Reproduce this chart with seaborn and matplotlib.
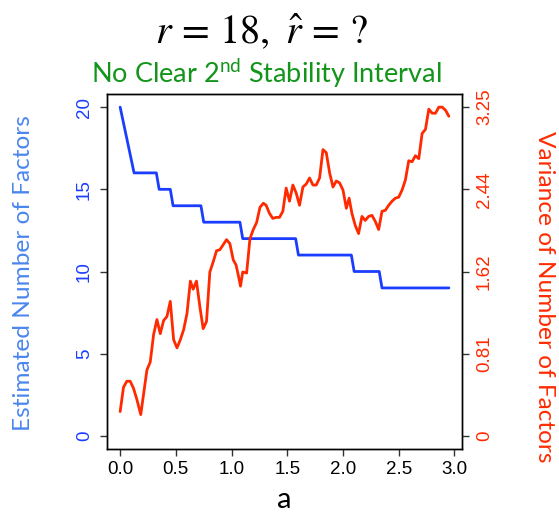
import matplotlib
matplotlib.use("Agg")
import matplotlib.pyplot as plt
import seaborn as sns
import pandas as pd

# Estimated number of factors (step curve vertices)
a_factors = [0.0, 0.125, 0.325, 0.35, 0.45, 0.475, 0.725, 0.75, 1.075, 1.1,
             1.575, 1.6, 2.075, 2.1, 2.325, 2.35, 2.95]
est_factors = [20, 16, 16, 15, 15, 14, 14, 13, 13, 12,
               12, 11, 11, 10, 10, 9, 9]

# Variance of the number of factors
a_var = [0.00, 0.03, 0.06, 0.09, 0.12, 0.15, 0.185, 0.215, 0.24, 0.27,
         0.30, 0.33, 0.36, 0.39, 0.42, 0.45, 0.48, 0.51, 0.54, 0.57,
         0.60, 0.63, 0.655, 0.685, 0.715, 0.745, 0.775, 0.805, 0.835, 0.865,
         0.895, 0.925, 0.955, 0.985, 1.015, 1.04, 1.06, 1.08, 1.10, 1.135,
         1.165, 1.195, 1.225, 1.255, 1.285, 1.31, 1.34, 1.37, 1.40, 1.43,
         1.46, 1.49, 1.52, 1.55, 1.58, 1.61, 1.64, 1.67, 1.70, 1.73,
         1.76, 1.79, 1.82, 1.85, 1.88, 1.91, 1.94, 1.97, 2.00, 2.03,
         2.055, 2.08, 2.11, 2.14, 2.17, 2.20, 2.23, 2.26, 2.29, 2.32,
         2.35, 2.38, 2.41, 2.44, 2.47, 2.50, 2.53, 2.56, 2.59, 2.62,
         2.65, 2.68, 2.71, 2.74, 2.77, 2.80, 2.83, 2.86, 2.89, 2.92, 2.95]
var_factors = [0.24, 0.48, 0.54, 0.54, 0.47, 0.36, 0.21, 0.45, 0.65, 0.73,
               1.00, 1.15, 1.01, 1.14, 1.18, 1.33, 0.95, 0.87, 0.95, 1.05,
               1.21, 1.53, 1.45, 1.53, 1.28, 1.06, 1.13, 1.62, 1.72, 1.83,
               1.84, 1.89, 1.94, 1.90, 1.74, 1.69, 1.59, 1.48, 1.62, 1.61,
               1.95, 2.04, 2.11, 2.26, 2.30, 2.28, 2.20, 2.15, 2.16, 2.16,
               2.22, 2.45, 2.32, 2.48, 2.40, 2.28, 2.46, 2.49, 2.55, 2.48,
               2.48, 2.55, 2.83, 2.80, 2.60, 2.46, 2.52, 2.50, 2.43, 2.25,
               2.35, 2.20, 2.08, 2.00, 2.17, 2.13, 2.17, 2.18, 2.12, 2.04,
               2.22, 2.23, 2.28, 2.32, 2.35, 2.36, 2.43, 2.53, 2.72, 2.71,
               2.77, 2.74, 2.99, 3.03, 3.23, 3.19, 3.19, 3.25, 3.25, 3.22, 3.16]

x_ticks = [0.0, 0.5, 1.0, 1.5, 2.0, 2.5, 3.0]
left_ticks = [0, 5, 10, 15, 20]
right_ticks = [0, 0.8125, 1.625, 2.4375, 3.25]
right_labels = ["0", "0.81", "1.62", "2.44", "3.25"]

BLUE = "#1a3dff"
RED = "#ff2a00"
LABEL_BLUE = "#4a86ee"
GREEN = "#12951a"

sns.set_style("ticks")
plt.rcParams["font.family"] = ["Liberation Sans", "DejaVu Sans"]
plt.rcParams["mathtext.fontset"] = "custom"
plt.rcParams["mathtext.rm"] = "Lato"
plt.rcParams["mathtext.it"] = "Lato:italic"

df_est = pd.DataFrame({"a": a_factors, "est": est_factors})
df_var = pd.DataFrame({"a": a_var, "var": var_factors})

fig = plt.figure(figsize=(5.59, 5.22), dpi=100)
ax = fig.add_axes([107 / 559, 1 - 449 / 522, (462 - 107) / 559, (449 - 94) / 522])
ax2 = ax.twinx()

sns.lineplot(data=df_est, x="a", y="est", ax=ax, color=BLUE, lw=2.0,
             estimator=None, sort=False)
sns.lineplot(data=df_var, x="a", y="var", ax=ax2, color=RED, lw=2.0,
             estimator=None, sort=False)

ax.set_xlim(-0.118, 3.068)
ax.set_ylim(-0.8, 20.8)
ax2.set_ylim(-0.8 * 0.1625, 20.8 * 0.1625)

ax.set_xticks(x_ticks)
ax.set_xticklabels([f"{v:.1f}" for v in x_ticks])
ax.set_yticks(left_ticks)
ax.set_yticklabels([str(v) for v in left_ticks], rotation=90, va="center")
ax2.set_yticks(right_ticks)
ax2.set_yticklabels(right_labels, rotation=90, va="center")

ax.set_xlabel("")
ax.set_ylabel("")
ax2.set_ylabel("")

for a_ in (ax, ax2):
    for s in a_.spines.values():
        s.set_visible(True)
        s.set_color("black")
        s.set_linewidth(1.0)

ax.tick_params(axis="x", length=5, width=1, color="#333333", labelsize=13.5,
               pad=4, labelcolor="black")
ax.tick_params(axis="y", length=5, width=1, color="#333333", labelsize=13.5,
               pad=5, labelcolor=BLUE)
ax2.tick_params(axis="y", length=5, width=1, color="#333333", labelsize=13.5,
                pad=5, labelcolor=RED)

# Titles and axis labels
fig.text(262 / 559, 1 - 43 / 522, r"$r\,=\,18,\ \hat{r}\,=\,?$", ha="center",
         va="baseline", fontsize=29, math_fontfamily="stix", color="black")
fig.text(266 / 559, 1 - 83 / 522, r"No Clear 2$^{\mathrm{nd}}$ Stability Interval",
         ha="center", va="baseline", fontsize=19.5, family="Lato",
         math_fontfamily="custom", color=GREEN)
fig.text(24 / 559, 1 - 273 / 522, "Estimated Number of Factors", rotation=90,
         ha="center", va="center", fontsize=17.6, family="Lato", color=LABEL_BLUE)
fig.text(544 / 559, 1 - 297 / 522, "Variance of Number of Factors", rotation=270,
         ha="center", va="center", fontsize=17.6, family="Lato", color=RED)
fig.text(284 / 559, 1 - 500 / 522, "a", ha="center", va="center",
         fontsize=21, family="Lato", color="black")

fig.savefig("out.png", dpi=100)
